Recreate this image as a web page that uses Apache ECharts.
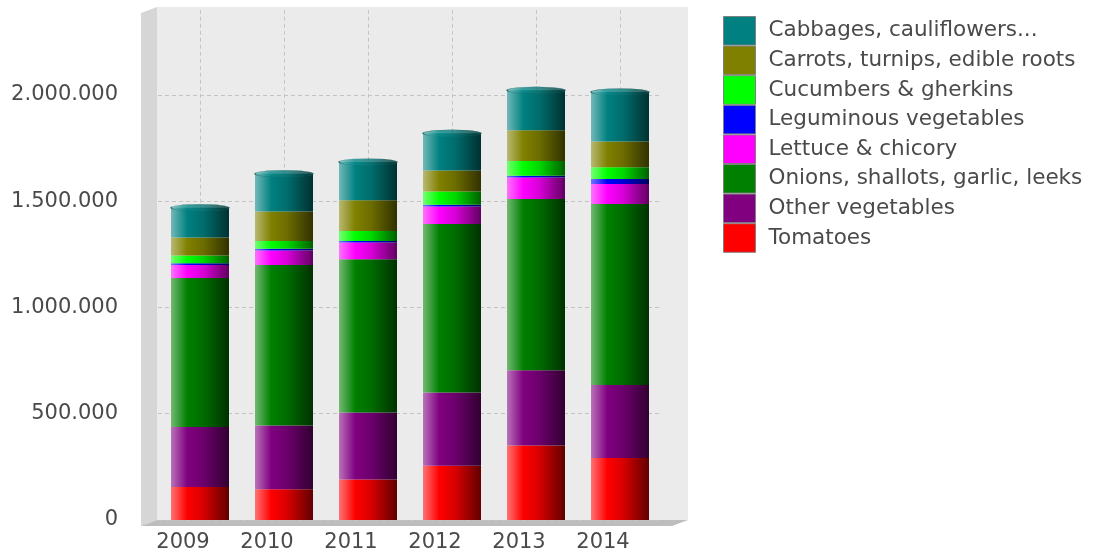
<!DOCTYPE html>
<html>
<head>
<meta charset="utf-8">
<script src="https://cdn.jsdelivr.net/npm/echarts@6/dist/echarts.min.js"></script>
<style>html,body{margin:0;padding:0;background:#fff;}#c{width:1094px;height:557px;}</style>
</head>
<body>
<div id="c"></div>
<script>
var years = ['2009', '2010', '2011', '2012', '2013', '2014'];
var tomatoes   = [155000, 145000, 190000, 255000, 350000, 292000];
var other      = [282000, 300000, 316000, 345000, 355000, 343000];
var onions     = [701000, 754000, 721000, 792000, 805000, 851000];
var lettuce    = [62000, 69000, 78000, 83000, 101000, 94000];
var leguminous = [8000, 8000, 8000, 8000, 8000, 24000];
var cucumbers  = [36000, 37000, 47000, 62000, 70000, 55000];
var carrots    = [85000, 138000, 144000, 99000, 144000, 122000];
var cabbages   = [140000, 178000, 180000, 175000, 188000, 232000];
var yTicks = [0, 500000, 1000000, 1500000, 2000000];

var seriesDefs = [
  {name: 'Tomatoes', data: tomatoes, color: '#ff0000'},
  {name: 'Other vegetables', data: other, color: '#800080'},
  {name: 'Onions, shallots, garlic, leeks', data: onions, color: '#008000'},
  {name: 'Lettuce & chicory', data: lettuce, color: '#ff00ff'},
  {name: 'Leguminous vegetables', data: leguminous, color: '#0000ff'},
  {name: 'Cucumbers & gherkins', data: cucumbers, color: '#00ff00'},
  {name: 'Carrots, turnips, edible roots', data: carrots, color: '#808000'},
  {name: 'Cabbages, cauliflowers...', data: cabbages, color: '#008080'}
];
var legendOrder = ['Cabbages, cauliflowers...', 'Carrots, turnips, edible roots', 'Cucumbers & gherkins',
  'Leguminous vegetables', 'Lettuce & chicory', 'Onions, shallots, garlic, leeks', 'Other vegetables', 'Tomatoes'];

function mix(hex, target, t) {
  var r = parseInt(hex.substr(1, 2), 16), g = parseInt(hex.substr(3, 2), 16), b = parseInt(hex.substr(5, 2), 16);
  r = Math.round(r + (target - r) * t); g = Math.round(g + (target - g) * t); b = Math.round(b + (target - b) * t);
  return 'rgb(' + r + ',' + g + ',' + b + ')';
}
function cyl(hex) {
  return new echarts.graphic.LinearGradient(0, 0, 1, 0, [
    {offset: 0, color: mix(hex, 255, 0.45)},
    {offset: 0.28, color: hex},
    {offset: 0.55, color: mix(hex, 0, 0.15)},
    {offset: 1, color: mix(hex, 0, 0.62)}
  ]);
}
var totals = years.map(function (y, i) {
  var s = 0; seriesDefs.forEach(function (d) { s += d.data[i]; }); return s;
});

function fmt(v) { return String(v).replace(/\B(?=(\d{3})+(?!\d))/g, '.'); }

var series = seriesDefs.map(function (d) {
  return {
    name: d.name, type: 'bar', stack: 'total', xAxisIndex: 1, yAxisIndex: 1,
    barWidth: 58, data: d.data,
    itemStyle: {color: cyl(d.color)}
  };
});
series.push({
  name: 'cap', type: 'scatter', xAxisIndex: 1, yAxisIndex: 1, data: totals,
  symbol: 'circle', symbolSize: [58, 7], z: 5, silent: true,
  itemStyle: {color: cyl('#0a8a8a'), borderColor: '#1f5f5f', borderWidth: 0.6}
});

var chart = echarts.init(document.getElementById('c'), null, {renderer: 'canvas'});
chart.setOption({
  backgroundColor: '#ffffff',
  animation: false,
  textStyle: {fontFamily: 'DejaVu Sans'},
  grid: [
    {left: 157, top: 7, width: 531, bottom: 37, show: true, backgroundColor: '#ebebeb', borderWidth: 0},
    {left: 158, top: 9.8, width: 504, bottom: 37, show: false}
  ],
  xAxis: [
    {type: 'category', gridIndex: 0, data: years, show: false},
    {type: 'category', gridIndex: 1, data: years,
     axisLine: {show: false}, axisTick: {show: false},
     axisLabel: {fontSize: 21, color: '#4a4a4a', margin: 12, padding: [0, 34, 0, 0]},
     splitLine: {show: true, alignWithLabel: true, lineStyle: {color: '#c4c4c4', type: [4, 3], width: 1}}}
  ],
  yAxis: [
    {type: 'value', gridIndex: 0, show: false},
    {type: 'value', gridIndex: 1, min: 0, max: 2400000, interval: 500000,
     axisLine: {show: false},
     axisTick: {show: false},
     axisLabel: {fontSize: 21, color: '#4a4a4a', margin: 40, customValues: yTicks, padding: [5, 0, 0, 0],
       formatter: function (v) { return fmt(v); }},
     splitLine: {show: true, showMaxLine: false, lineStyle: {color: '#c4c4c4', type: [4, 3], width: 1}}}
  ],
  legend: {
    orient: 'vertical', left: 718, top: 11, itemWidth: 32, itemHeight: 28.6, itemGap: 0,
    icon: 'rect', selectedMode: false,
    textStyle: {fontSize: 21.5, color: '#4a4a4a', padding: [0, 0, 0, 8], lineHeight: 22},
    data: legendOrder.map(function (n) {
      var d = seriesDefs.filter(function (s) { return s.name === n; })[0];
      return {name: n, itemStyle: {color: d.color, borderColor: '#808080', borderWidth: 1}};
    })
  },
  graphic: [
    {type: 'polygon', z: -10, shape: {points: [[141, 13], [157, 7], [157, 520], [141, 526]]},
     style: {fill: '#d6d6d6'}},
    {type: 'polygon', z: -10, shape: {points: [[141, 526], [157, 520], [688, 520], [672, 526]]},
     style: {fill: '#bdbdbd'}}
  ],
  series: series
});
</script>
</body>
</html>
